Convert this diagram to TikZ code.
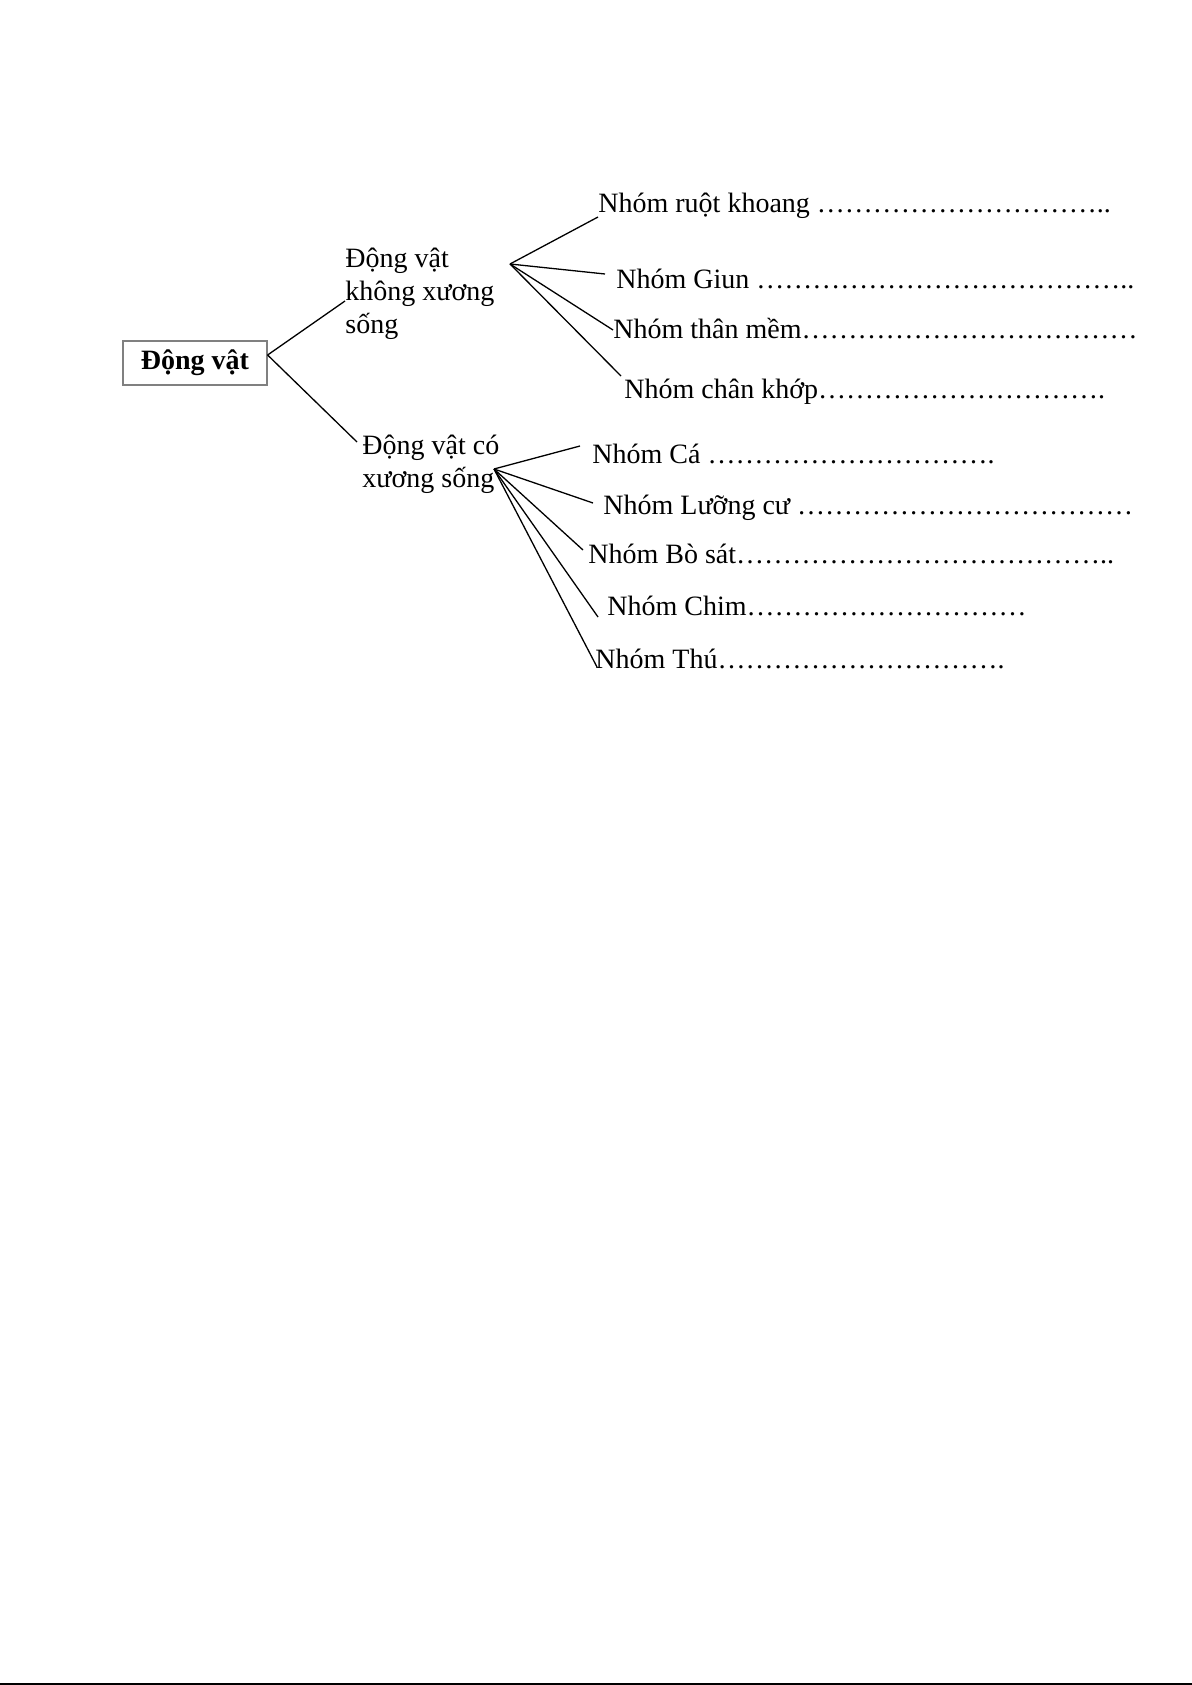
\documentclass[tikz,border=0pt]{standalone}
\usepackage{fontspec}
\setmainfont{Liberation Serif}
\newcommand{\dotrun}[1]{\foreach \k in {1,...,#1}{…}}
\begin{document}
\begin{tikzpicture}[x=0.5pt, y=-0.5pt,
    leaf/.style={anchor=base west, inner sep=0pt, font=\fontsize{14}{16.5}\selectfont},
    branch/.style={line width=0.65pt, black}]
        \useasboundingbox (0,0) rectangle (1192,1685);

        % Root box
        \node[draw=gray, line width=0.6pt, minimum width=72pt, minimum height=22pt,
              font=\fontsize{14}{16.5}\selectfont\bfseries] (dv) at (195,363) {Động vật};

        % Branching points
        \coordinate (dvr) at ([yshift=4pt]dv.east); % Root right side
        \coordinate (hub1) at (510,264);  % Invertebrates
        \coordinate (hub2) at (494,469);  % Vertebrates

        % Ends of the lines
        \coordinate (khongend) at (345,301);
        \coordinate (coend) at (357,442);
        \coordinate (ruotend) at (598,217);
        \coordinate (giunend) at (605,274);
        \coordinate (thanend) at (613,330);
        \coordinate (chanend) at (621,376);
        \coordinate (caend) at (580,446);
        \coordinate (luongend) at (593,503);
        \coordinate (bosatend) at (583,550);
        \coordinate (chimend) at (598,617);
        \coordinate (thuend) at (597,667);

        % Second level labels (placed at the baseline of the last line)
        \node[leaf, align=left] (khong) at (345,333) {Động vật\\không xương\\sống};
        \node[leaf, align=left] (co) at (362,487) {Động vật có\\xương sống};

        % Leaves
        \node[leaf] (ruot) at (598,213) {Nhóm ruột khoang \dotrun{10}..};
        \node[leaf] (giun) at (616,288) {Nhóm Giun \dotrun{13}..};
        \node[leaf] (than) at (613,338) {Nhóm thân mềm\dotrun{12}};
        \node[leaf] (chan) at (624,398) {Nhóm chân khớp\dotrun{10}.};
        \node[leaf] (ca) at (592,463) {Nhóm Cá \dotrun{10}.};
        \node[leaf] (luong) at (603,514) {Nhóm Lưỡng cư \dotrun{12}};
        \node[leaf] (bosat) at (588,563) {Nhóm Bò sát\dotrun{13}..};
        \node[leaf] (chim) at (607,615) {Nhóm Chim\dotrun{10}};
        \node[leaf] (thu) at (595,668) {Nhóm Thú\dotrun{10}.};

        % Lines
        \draw[branch] (dvr) -- (khongend);
        \draw[branch] (dvr) -- (coend);
        \draw[branch] (hub1) -- (ruotend);
        \draw[branch] (hub1) -- (giunend);
        \draw[branch] (hub1) -- (thanend);
        \draw[branch] (hub1) -- (chanend);
        \draw[branch] (hub2) -- (caend);
        \draw[branch] (hub2) -- (luongend);
        \draw[branch] (hub2) -- (bosatend);
        \draw[branch] (hub2) -- (chimend);
        \draw[branch] (hub2) -- (thuend);

        % Bottom edge line
        \draw[line width=1pt] (0,1684) -- (1192,1684);
\end{tikzpicture}
\end{document}
